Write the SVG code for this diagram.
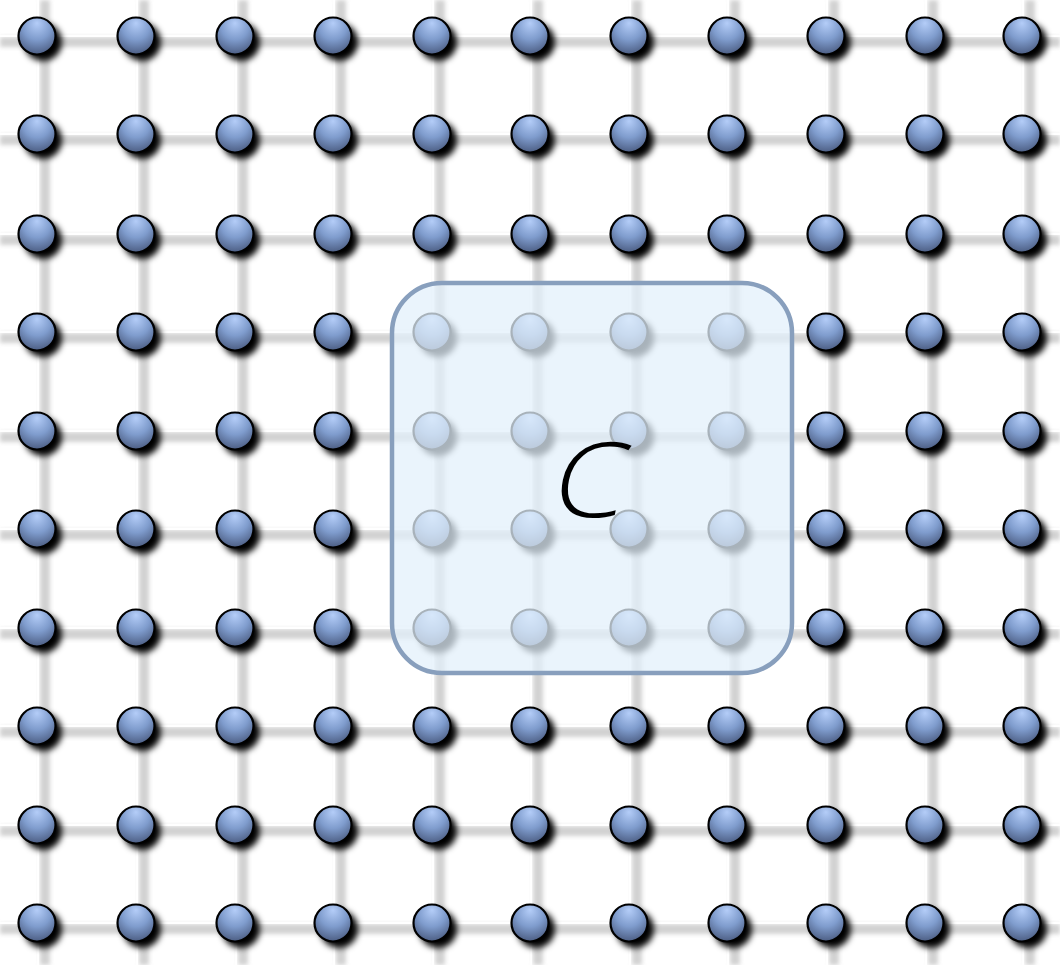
<svg xmlns="http://www.w3.org/2000/svg" xmlns:xlink="http://www.w3.org/1999/xlink" width="1060" height="965" viewBox="0 0 1060 965">
<defs>
<radialGradient id="ball" cx="0.5" cy="0.3" r="0.75" fx="0.5" fy="0.15">
<stop offset="0" stop-color="#b4cdf8"/>
<stop offset="0.5" stop-color="#7f9ccd"/>
<stop offset="1" stop-color="#46567a"/>
</radialGradient>
<filter id="lblur" x="-0.1" y="-0.1" width="1.2" height="1.2"><feGaussianBlur stdDeviation="2.2"/></filter>
<filter id="nblur" x="-1" y="-1" width="3" height="3"><feGaussianBlur stdDeviation="3.2"/></filter>
<symbol id="node" overflow="visible">
<circle cx="6" cy="6" r="19" fill="#000" filter="url(#nblur)"/>
<circle cx="0" cy="0" r="18.5" fill="url(#ball)" stroke="#000" stroke-width="2.2"/>
</symbol>
<style>
.sh{stroke:#d2d2d2;stroke-width:10;fill:none}
.wl{stroke:#fff;stroke-width:2;fill:none}
.box{fill:#e3f0fb;fill-opacity:0.74;stroke:#889fbd;stroke-width:4.5}
.lbl{font-family:"Open Sans","DejaVu Sans",sans-serif;font-weight:300;font-size:104px;fill:#000}
</style>
</defs>
<rect width="1060" height="965" fill="#fff"/>
<g id="connectors">
<g filter="url(#lblur)">
<path class="sh" d="M0 42H1060M0 140H1060M0 240H1060M0 338H1060M0 437H1060M0 535H1060M0 634H1060M0 732H1060M0 831H1060M0 929H1060"/>
<path class="sh" d="M45 0V965M144 0V965M243 0V965M341 0V965M440 0V965M538 0V965M637 0V965M735 0V965M834 0V965M933 0V965M1030 0V965"/>
</g>
<path class="wl" d="M0 36H1060M0 134H1060M0 234H1060M0 332H1060M0 431H1060M0 529H1060M0 628H1060M0 726H1060M0 825H1060M0 923H1060"/>
<path class="wl" d="M38 0V965M137 0V965M236 0V965M334 0V965M433 0V965M531 0V965M630 0V965M728 0V965M827 0V965M926 0V965M1023 0V965"/>
</g>
<g id="nodes">
<g id="n0-0"><use xlink:href="#node" x="37" y="36"/></g><g id="n0-1"><use xlink:href="#node" x="136" y="36"/></g><g id="n0-2"><use xlink:href="#node" x="235" y="36"/></g><g id="n0-3"><use xlink:href="#node" x="333" y="36"/></g><g id="n0-4"><use xlink:href="#node" x="432" y="36"/></g><g id="n0-5"><use xlink:href="#node" x="530" y="36"/></g><g id="n0-6"><use xlink:href="#node" x="629" y="36"/></g><g id="n0-7"><use xlink:href="#node" x="727" y="36"/></g><g id="n0-8"><use xlink:href="#node" x="826" y="36"/></g><g id="n0-9"><use xlink:href="#node" x="925" y="36"/></g><g id="n0-10"><use xlink:href="#node" x="1022" y="36"/></g>
<g id="n1-0"><use xlink:href="#node" x="37" y="134"/></g><g id="n1-1"><use xlink:href="#node" x="136" y="134"/></g><g id="n1-2"><use xlink:href="#node" x="235" y="134"/></g><g id="n1-3"><use xlink:href="#node" x="333" y="134"/></g><g id="n1-4"><use xlink:href="#node" x="432" y="134"/></g><g id="n1-5"><use xlink:href="#node" x="530" y="134"/></g><g id="n1-6"><use xlink:href="#node" x="629" y="134"/></g><g id="n1-7"><use xlink:href="#node" x="727" y="134"/></g><g id="n1-8"><use xlink:href="#node" x="826" y="134"/></g><g id="n1-9"><use xlink:href="#node" x="925" y="134"/></g><g id="n1-10"><use xlink:href="#node" x="1022" y="134"/></g>
<g id="n2-0"><use xlink:href="#node" x="37" y="234"/></g><g id="n2-1"><use xlink:href="#node" x="136" y="234"/></g><g id="n2-2"><use xlink:href="#node" x="235" y="234"/></g><g id="n2-3"><use xlink:href="#node" x="333" y="234"/></g><g id="n2-4"><use xlink:href="#node" x="432" y="234"/></g><g id="n2-5"><use xlink:href="#node" x="530" y="234"/></g><g id="n2-6"><use xlink:href="#node" x="629" y="234"/></g><g id="n2-7"><use xlink:href="#node" x="727" y="234"/></g><g id="n2-8"><use xlink:href="#node" x="826" y="234"/></g><g id="n2-9"><use xlink:href="#node" x="925" y="234"/></g><g id="n2-10"><use xlink:href="#node" x="1022" y="234"/></g>
<g id="n3-0"><use xlink:href="#node" x="37" y="332"/></g><g id="n3-1"><use xlink:href="#node" x="136" y="332"/></g><g id="n3-2"><use xlink:href="#node" x="235" y="332"/></g><g id="n3-3"><use xlink:href="#node" x="333" y="332"/></g><g id="n3-4"><use xlink:href="#node" x="432" y="332"/></g><g id="n3-5"><use xlink:href="#node" x="530" y="332"/></g><g id="n3-6"><use xlink:href="#node" x="629" y="332"/></g><g id="n3-7"><use xlink:href="#node" x="727" y="332"/></g><g id="n3-8"><use xlink:href="#node" x="826" y="332"/></g><g id="n3-9"><use xlink:href="#node" x="925" y="332"/></g><g id="n3-10"><use xlink:href="#node" x="1022" y="332"/></g>
<g id="n4-0"><use xlink:href="#node" x="37" y="431"/></g><g id="n4-1"><use xlink:href="#node" x="136" y="431"/></g><g id="n4-2"><use xlink:href="#node" x="235" y="431"/></g><g id="n4-3"><use xlink:href="#node" x="333" y="431"/></g><g id="n4-4"><use xlink:href="#node" x="432" y="431"/></g><g id="n4-5"><use xlink:href="#node" x="530" y="431"/></g><g id="n4-6"><use xlink:href="#node" x="629" y="431"/></g><g id="n4-7"><use xlink:href="#node" x="727" y="431"/></g><g id="n4-8"><use xlink:href="#node" x="826" y="431"/></g><g id="n4-9"><use xlink:href="#node" x="925" y="431"/></g><g id="n4-10"><use xlink:href="#node" x="1022" y="431"/></g>
<g id="n5-0"><use xlink:href="#node" x="37" y="529"/></g><g id="n5-1"><use xlink:href="#node" x="136" y="529"/></g><g id="n5-2"><use xlink:href="#node" x="235" y="529"/></g><g id="n5-3"><use xlink:href="#node" x="333" y="529"/></g><g id="n5-4"><use xlink:href="#node" x="432" y="529"/></g><g id="n5-5"><use xlink:href="#node" x="530" y="529"/></g><g id="n5-6"><use xlink:href="#node" x="629" y="529"/></g><g id="n5-7"><use xlink:href="#node" x="727" y="529"/></g><g id="n5-8"><use xlink:href="#node" x="826" y="529"/></g><g id="n5-9"><use xlink:href="#node" x="925" y="529"/></g><g id="n5-10"><use xlink:href="#node" x="1022" y="529"/></g>
<g id="n6-0"><use xlink:href="#node" x="37" y="628"/></g><g id="n6-1"><use xlink:href="#node" x="136" y="628"/></g><g id="n6-2"><use xlink:href="#node" x="235" y="628"/></g><g id="n6-3"><use xlink:href="#node" x="333" y="628"/></g><g id="n6-4"><use xlink:href="#node" x="432" y="628"/></g><g id="n6-5"><use xlink:href="#node" x="530" y="628"/></g><g id="n6-6"><use xlink:href="#node" x="629" y="628"/></g><g id="n6-7"><use xlink:href="#node" x="727" y="628"/></g><g id="n6-8"><use xlink:href="#node" x="826" y="628"/></g><g id="n6-9"><use xlink:href="#node" x="925" y="628"/></g><g id="n6-10"><use xlink:href="#node" x="1022" y="628"/></g>
<g id="n7-0"><use xlink:href="#node" x="37" y="726"/></g><g id="n7-1"><use xlink:href="#node" x="136" y="726"/></g><g id="n7-2"><use xlink:href="#node" x="235" y="726"/></g><g id="n7-3"><use xlink:href="#node" x="333" y="726"/></g><g id="n7-4"><use xlink:href="#node" x="432" y="726"/></g><g id="n7-5"><use xlink:href="#node" x="530" y="726"/></g><g id="n7-6"><use xlink:href="#node" x="629" y="726"/></g><g id="n7-7"><use xlink:href="#node" x="727" y="726"/></g><g id="n7-8"><use xlink:href="#node" x="826" y="726"/></g><g id="n7-9"><use xlink:href="#node" x="925" y="726"/></g><g id="n7-10"><use xlink:href="#node" x="1022" y="726"/></g>
<g id="n8-0"><use xlink:href="#node" x="37" y="825"/></g><g id="n8-1"><use xlink:href="#node" x="136" y="825"/></g><g id="n8-2"><use xlink:href="#node" x="235" y="825"/></g><g id="n8-3"><use xlink:href="#node" x="333" y="825"/></g><g id="n8-4"><use xlink:href="#node" x="432" y="825"/></g><g id="n8-5"><use xlink:href="#node" x="530" y="825"/></g><g id="n8-6"><use xlink:href="#node" x="629" y="825"/></g><g id="n8-7"><use xlink:href="#node" x="727" y="825"/></g><g id="n8-8"><use xlink:href="#node" x="826" y="825"/></g><g id="n8-9"><use xlink:href="#node" x="925" y="825"/></g><g id="n8-10"><use xlink:href="#node" x="1022" y="825"/></g>
<g id="n9-0"><use xlink:href="#node" x="37" y="923"/></g><g id="n9-1"><use xlink:href="#node" x="136" y="923"/></g><g id="n9-2"><use xlink:href="#node" x="235" y="923"/></g><g id="n9-3"><use xlink:href="#node" x="333" y="923"/></g><g id="n9-4"><use xlink:href="#node" x="432" y="923"/></g><g id="n9-5"><use xlink:href="#node" x="530" y="923"/></g><g id="n9-6"><use xlink:href="#node" x="629" y="923"/></g><g id="n9-7"><use xlink:href="#node" x="727" y="923"/></g><g id="n9-8"><use xlink:href="#node" x="826" y="923"/></g><g id="n9-9"><use xlink:href="#node" x="925" y="923"/></g><g id="n9-10"><use xlink:href="#node" x="1022" y="923"/></g>
</g>
<g id="region-C">
<rect class="box" x="392" y="283" width="400" height="390" rx="50" ry="50"/>
<text class="lbl" transform="translate(584 517) skewX(-12) scale(1.12 1)" x="0" y="0" text-anchor="middle">C</text>
</g>
</svg>
